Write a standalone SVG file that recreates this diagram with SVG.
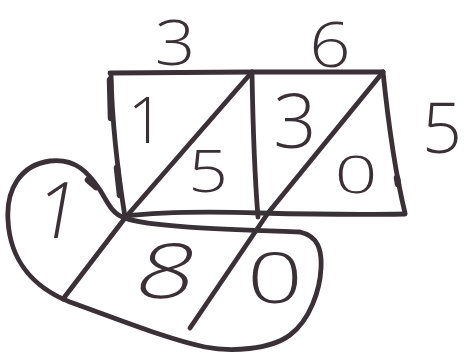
<svg xmlns="http://www.w3.org/2000/svg" width="464" height="353" viewBox="0 0 464 353">
<style>
.ln{fill:none;stroke:#3a3137;stroke-width:4.8;stroke-linecap:round;stroke-linejoin:round}
.mk{fill:none;stroke:#3a3137;stroke-width:6.5;stroke-linecap:round}
.d{font-family:"Open Sans","Liberation Sans",sans-serif;font-weight:300;fill:#3a3137;text-anchor:middle}
</style>
<rect width="464" height="353" fill="#ffffff"/>
<g id="grid">
<path class="ln" d="M110,73 L252,72 L383,72"/>
<path class="ln" d="M111,75 C112,120 117,167 125,217"/>
<path class="ln" d="M252,72 C253,133 255,180 258,217"/>
<path class="ln" d="M383,72 C389,130 397,180 405,213"/>
<path class="ln" d="M125,216 C160,212 200,211 260,213 C300,214 360,215 405,214"/>
<path class="mk" d="M110,80 L111,118"/>
<path class="mk" d="M117,168 L120,195"/>
<path class="mk" d="M397,178 L398,184"/>
</g>
<g id="diagonals">
<path class="ln" d="M252,72 L125,218 L63,299"/>
<path class="ln" d="M383,72 L268,213 L190,328"/>
</g>
<g id="loop">
<path class="ln" d="M125,218 C150,228 250,230 300,232 C318,236 322,250 321,268 C320,290 310,320 290,335 C270,350 230,352 205,347 C170,340 120,320 70,302 C35,288 10,262 8,220 C6,190 20,165 50,161 C75,158 88,172 100,190 C108,203 112,214 125,218 Z"/>
<path class="mk" d="M88,180 L96,187"/>
</g>
<g id="digits">
<text class="d" font-size="62" transform="translate(175,65) scale(1.15,1)">3</text>
<text class="d" font-size="63" transform="translate(330,67) scale(1.15,1)">6</text>
<text class="d" x="442" y="153" font-size="70">5</text>
<text class="d" x="146" y="143" font-size="64">1</text>
<text class="d" font-size="58" transform="translate(208,192) scale(1.2,1)">5</text>
<text class="d" x="295" y="148" font-size="76">3</text>
<text class="d" font-size="52" transform="translate(356,193) scale(1.45,1)">0</text>
<text class="d" font-size="76" transform="translate(161,298) scale(1.35,1) skewX(-10)">8</text>
<text class="d" font-size="70" transform="translate(275,303) scale(1.4,1)">0</text>
<text class="d" font-size="78" transform="translate(54,238) skewX(-10)">1</text>
</g>
</svg>
